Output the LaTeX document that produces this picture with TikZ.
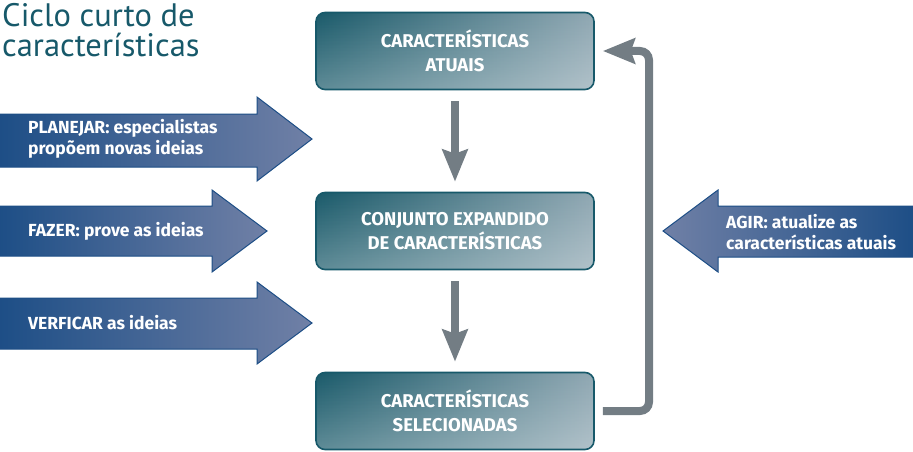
\documentclass[tikz,border=0pt]{standalone}
\usepackage{fontspec}
\setmainfont{PT Sans}
\newfontfamily\fira{Fira Sans}
\usetikzlibrary{arrows.meta,fadings}
\definecolor{teal1}{HTML}{17596A}
\definecolor{tealdark}{HTML}{1A5A6A}
\definecolor{teallight}{HTML}{90A8B3}
\definecolor{bluedark}{HTML}{1D4E86}
\definecolor{bluelight}{HTML}{7080A6}
\definecolor{grayarr}{HTML}{737D84}
\tikzset{
  box/.style={draw=teal1, line width=1.6pt, rounded corners=9pt,
    minimum width=278pt, minimum height=77pt, left color=tealdark, right color=teallight,
    path picture={\fill[white, path fading=north, fill opacity=0.3]
      (path picture bounding box.south west) rectangle (path picture bounding box.north east);},
    text=white, font=\fira\fontsize{18.5}{24}\selectfont\bfseries, align=center},
  blockR/.style={draw=bluedark, line width=1pt, left color=bluedark, right color=bluelight},
  blockL/.style={draw=bluedark, line width=1pt, left color=bluelight, right color=bluedark},
  atext/.style={text=white, font=\fira\fontsize{17.5}{21}\selectfont\bfseries, align=left, anchor=west, inner sep=0pt},
  flow/.style={draw=grayarr, line width=8pt, -{Stealth[length=32pt,width=25pt,inset=4pt]}},
}
\begin{document}
\begin{tikzpicture}[x=1pt,y=-1pt]
\useasboundingbox (0,0) rectangle (913,452);
% title
\node[anchor=base west, inner sep=0pt, text=teal1, font=\fontsize{32.5}{30}\selectfont] (t1) at (2,27) {Ciclo curto de};
\node[anchor=base west, inner sep=0pt, text=teal1, font=\fontsize{32.5}{30}\selectfont] (t2) at (2,57) {características};
% boxes
\node[box] (b1) at (455,51) {CARACTERÍSTICAS\\ATUAIS};
\node[box] (b2) at (455,231) {CONJUNTO EXPANDIDO\\DE CARACTERÍSTICAS};
\node[box] (b3) at (455,411) {CARACTERÍSTICAS\\SELECIONADAS};
% flow arrows
\draw[flow, shorten <=11pt, shorten >=10pt] (b1.south) -- (b2.north);
\draw[flow, shorten <=11pt, shorten >=10pt] (b2.south) -- (b3.north);
\coordinate (c1) at (649,411);
\coordinate (c2) at (649,51);
\draw[flow, rounded corners=9pt] ([xshift=8pt]b3.east) -- (c1) -- (c2) -- ([xshift=8pt]b1.east);
% left block arrows
\path[blockR] (-2,114) -- (257,114) -- (257,97) -- (312,139) -- (257,181) -- (257,167) -- (-2,167) -- cycle;
\path[blockR] (-2,206) -- (212,206) -- (212,190) -- (267,231) -- (212,272) -- (212,256) -- (-2,256) -- cycle;
\path[blockR] (-2,298) -- (257,298) -- (257,282) -- (312,323) -- (257,364) -- (257,349) -- (-2,349) -- cycle;
\path[blockL] (915,206) -- (718,206) -- (718,190) -- (663,231) -- (718,272) -- (718,257) -- (915,257) -- cycle;
\node[atext] (p) at (28,139) {PLANEJAR: especialistas\\propõem novas ideias};
\node[atext] (f) at (28,231) {FAZER: prove as ideias};
\node[atext] (v) at (28,323) {VERFICAR as ideias};
\node[atext] (a) at (726,232) {AGIR: atualize as\\características atuais};
\end{tikzpicture}
\end{document}
